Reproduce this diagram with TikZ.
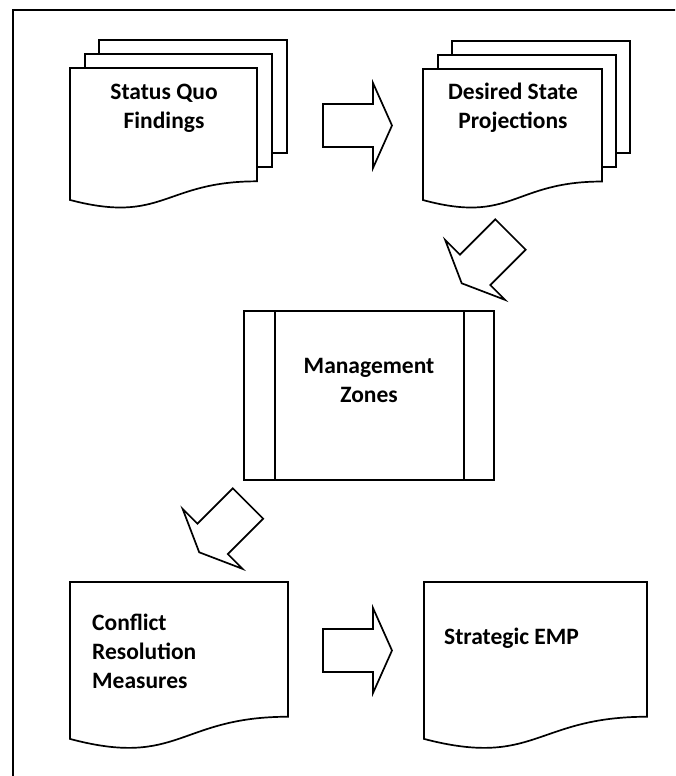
\documentclass[tikz,border=0pt]{standalone}
\usepackage{fontspec}
\setmainfont{Carlito}
\usepackage{tikz}
\usetikzlibrary{arrows}

\tikzset{
	sheet/.style={line width=1.7pt, fill=white, line join=miter},
	lbl/.style={font=\bfseries\fontsize{23.5}{29}\selectfont, inner sep=0pt},
	blockarrow/.pic={
		\draw[sheet] (0,-21.5) -- (50,-21.5) -- (50,-42.5) -- (69,0) -- (50,42.5) -- (50,21.5) -- (0,21.5) -- cycle;
	}
}

% page with wavy bottom: left, top, right, height
\newcommand{\docsheet}[4]{%
	\draw[sheet] (#1,#2) -- (#3,#2) -- (#3,{#2+0.802*#4})
		.. controls ({(#1+#3)/2},{#2+0.802*#4}) and ({(#1+#3)/2},{#2+1.1075*#4}) .. (#1,{#2+0.934*#4}) -- cycle;}

\begin{document}
\begin{tikzpicture}[x=1pt,y=-1pt]
					
					\clip (0,0) rectangle (675,776);
					\fill[white] (0,0) rectangle (675,776);
					\draw[line width=1.7pt] (13,10) rectangle (700,800);
					
					% status quo
					\draw[sheet] (99,40) rectangle (287,153);
					\draw[sheet] (85,54) rectangle (272,167);
					\docsheet{70}{68}{257}{141.3}
					\node[lbl, align=center] (findings) at (164,108) {Status Quo\\Findings};
					
					% desired state
					\draw[sheet] (452,41) rectangle (630,153);
					\draw[sheet] (438,55) rectangle (616,167);
					\docsheet{423}{69}{602}{140.3}
					\node[lbl, align=center] (projections) at (513,108) {Desired State\\Projections};
					
					% zones
					\draw[sheet] (244,311) rectangle (494,480);
					\draw[sheet] (275,311) -- (275,480);
					\draw[sheet] (464,311) -- (464,480);
					\node[lbl, align=center] (zones) at (369,380) {Management\\Zones};
					
					% bottom row
					\docsheet{70}{582}{288}{168}
					\node[lbl, align=left, anchor=north west] (measures) at (92,614) {Conflict\\Resolution\\Measures};
					
					\docsheet{424}{582}{647}{168}
					\node[lbl, anchor=base west] (emp) at (444,644) {Strategic EMP};
					
					% arrows
					\pic at (323,125.5) {blockarrow};
					\pic[rotate=-135] at (510.5,234.5) {blockarrow};
					\pic[rotate=-135] at (248,503.5) {blockarrow};
					\pic at (323,650.5) {blockarrow};
					
				\end{tikzpicture}
\end{document}
